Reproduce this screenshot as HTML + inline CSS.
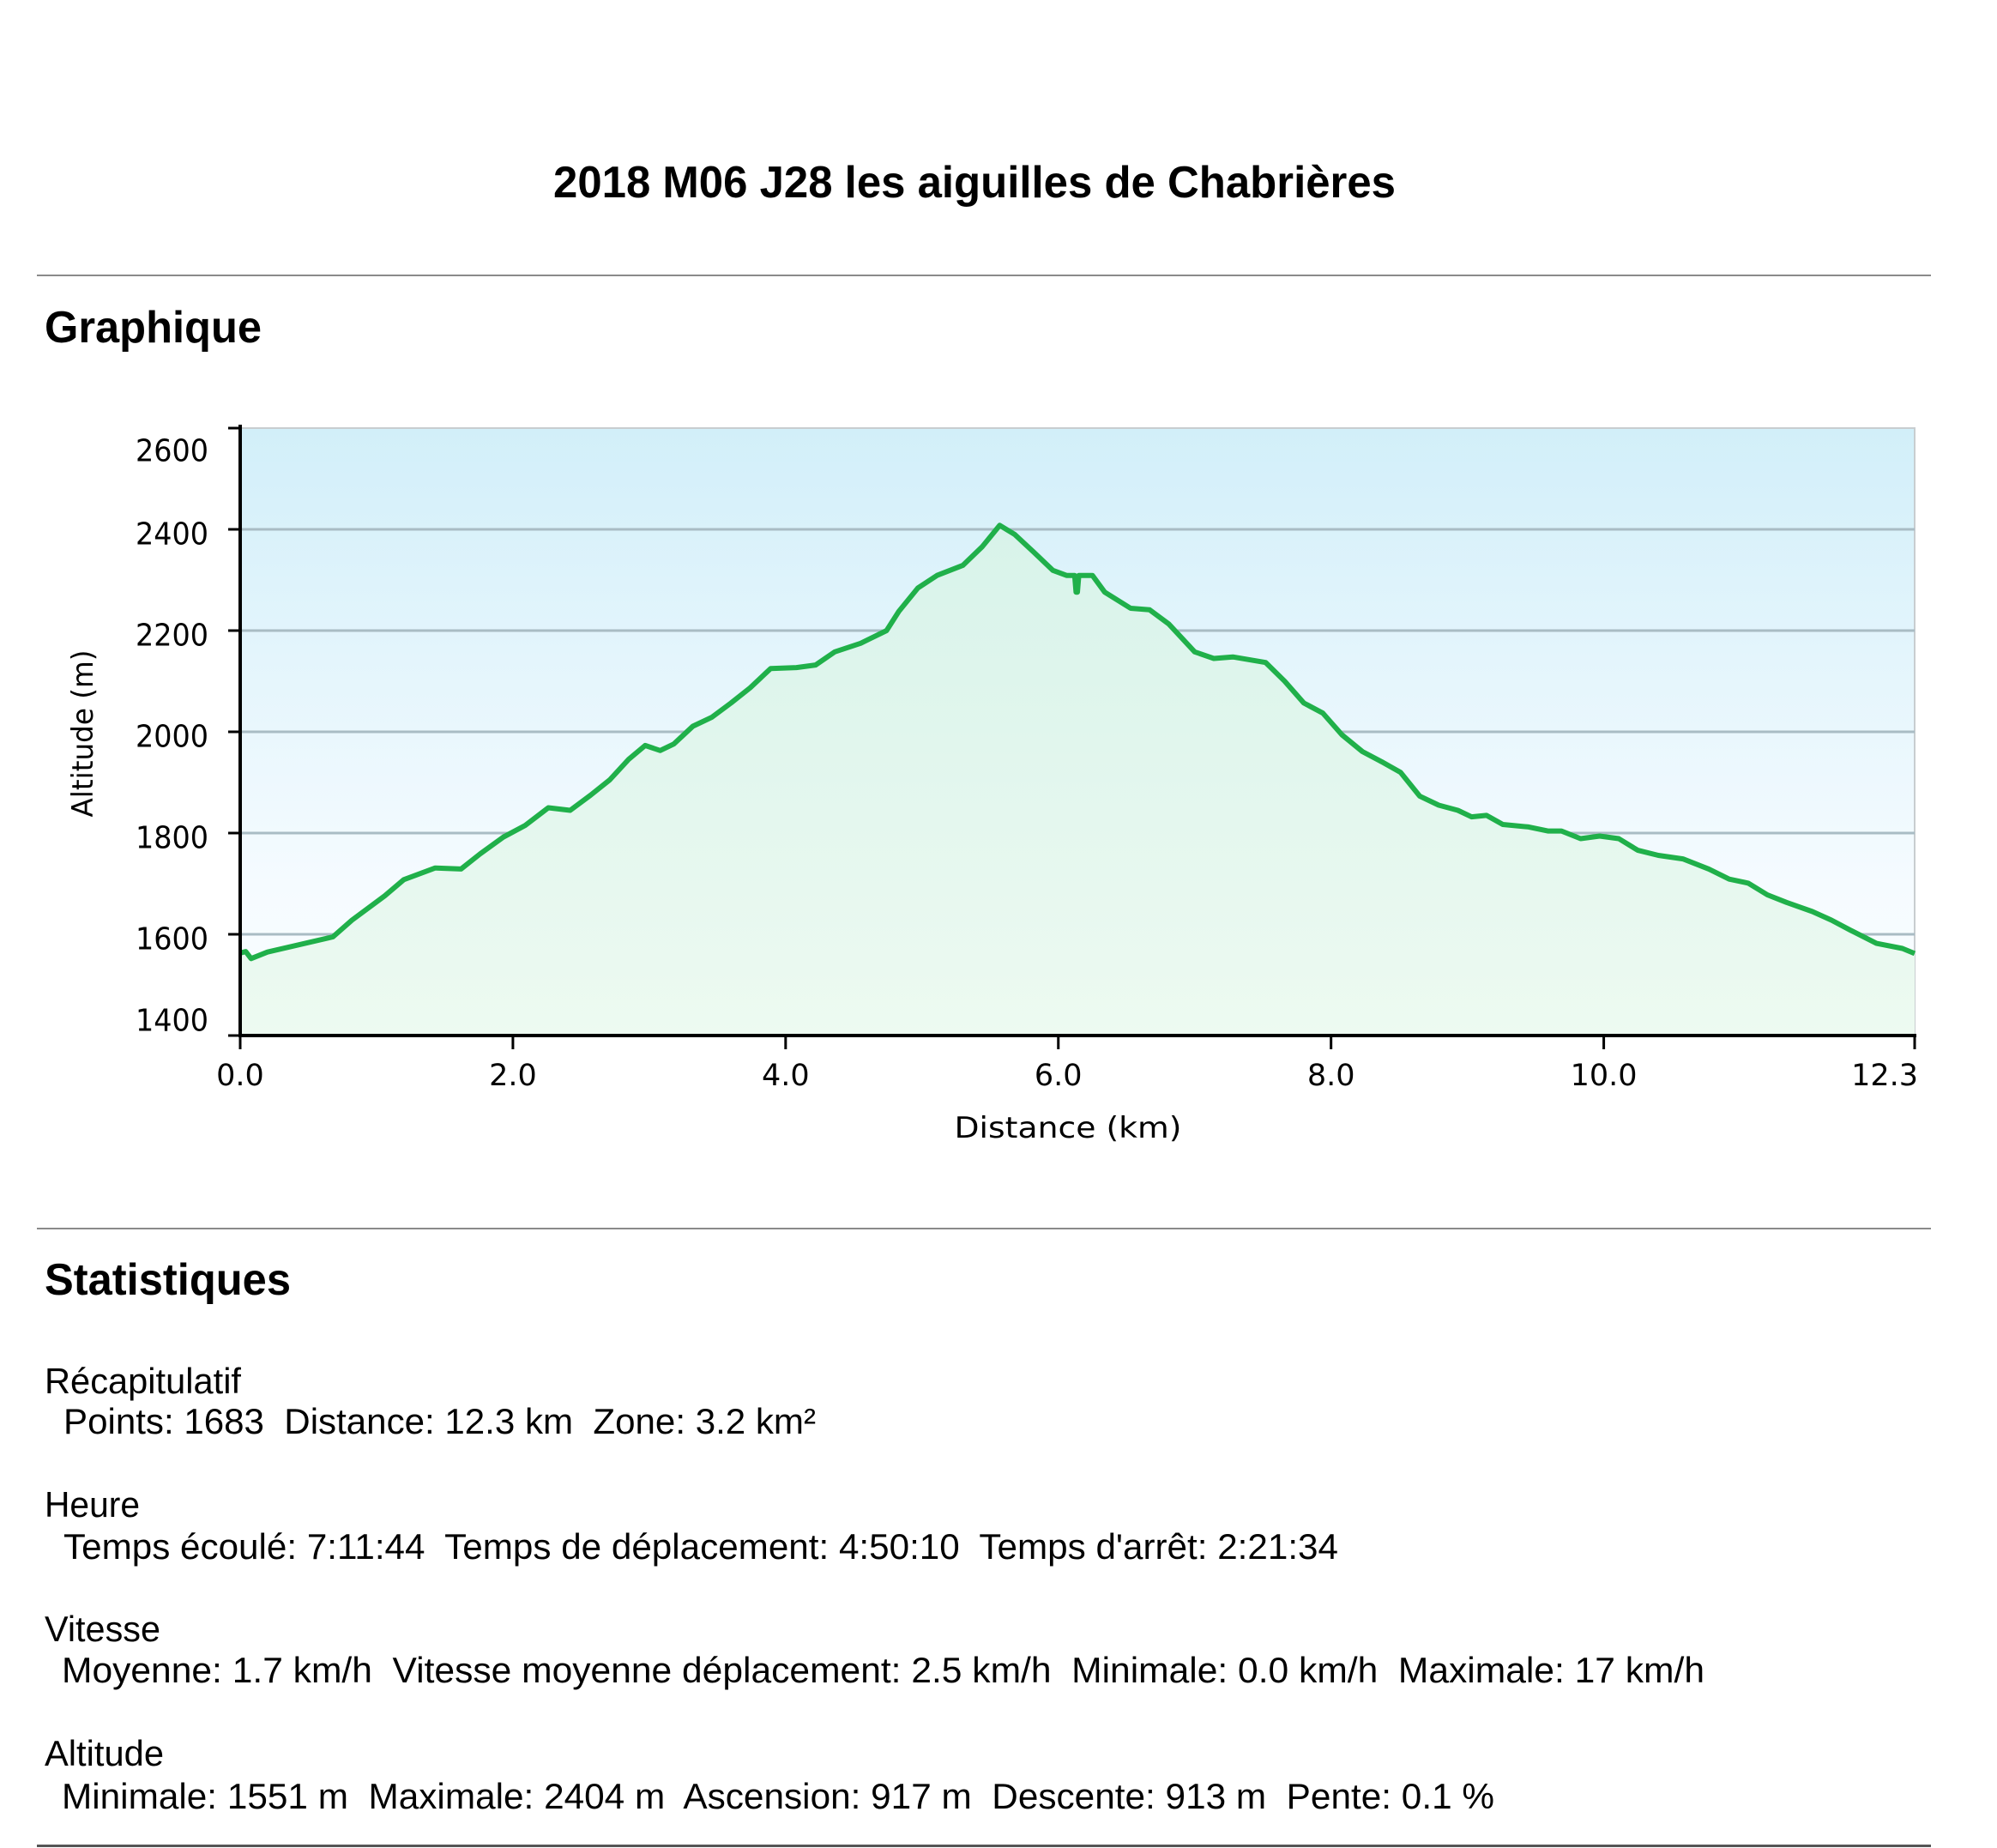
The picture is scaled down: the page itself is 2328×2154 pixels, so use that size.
<!DOCTYPE html>
<html><head><meta charset="utf-8">
<style>html,body{margin:0;padding:0;background:#fff;}svg{display:block;}</style>
</head><body>
<svg id="page" width="2328" height="2154" viewBox="0 0 2328 2154" xmlns="http://www.w3.org/2000/svg" font-family="'Liberation Sans', sans-serif">
<defs>
<linearGradient id="skyGrad" x1="0" y1="0" x2="0" y2="1">
<stop offset="0" stop-color="#d2eff9"/><stop offset="0.75" stop-color="#f5fbff"/><stop offset="1" stop-color="#fafdff"/>
</linearGradient>
<linearGradient id="fillGrad" x1="0" y1="0" x2="0" y2="1">
<stop offset="0" stop-color="#d8f3ea"/><stop offset="1" stop-color="#edfaf1"/>
</linearGradient>
</defs>
<text x="645" y="230" font-size="52" font-weight="bold" textLength="982" lengthAdjust="spacingAndGlyphs">2018 M06 J28 les aiguilles de Chabrières</text>
<rect x="43" y="320" width="2208" height="2" fill="#8a8a8a"/>
<text x="52" y="399" font-size="52" font-weight="bold" textLength="253" lengthAdjust="spacingAndGlyphs">Graphique</text>

<g id="chart"></g>

<rect x="43" y="1431" width="2208" height="2" fill="#8a8a8a"/>
<text x="52" y="1509" font-size="52" font-weight="bold" textLength="287" lengthAdjust="spacingAndGlyphs">Statistiques</text>
<g font-size="42" fill="#000">
<text x="52" y="1624" textLength="229" lengthAdjust="spacingAndGlyphs">Récapitulatif</text>
<text x="74" y="1671" textLength="877" lengthAdjust="spacingAndGlyphs" xml:space="preserve">Points: 1683  Distance: 12.3 km  Zone: 3.2 km²</text>
<text x="52" y="1768" textLength="111" lengthAdjust="spacingAndGlyphs">Heure</text>
<text x="74" y="1817" textLength="1486" lengthAdjust="spacingAndGlyphs" xml:space="preserve">Temps écoulé: 7:11:44  Temps de déplacement: 4:50:10  Temps d'arrêt: 2:21:34</text>
<text x="52" y="1913" textLength="135" lengthAdjust="spacingAndGlyphs">Vitesse</text>
<text x="72" y="1961" textLength="1915" lengthAdjust="spacingAndGlyphs" xml:space="preserve">Moyenne: 1.7 km/h  Vitesse moyenne déplacement: 2.5 km/h  Minimale: 0.0 km/h  Maximale: 17 km/h</text>
<text x="52" y="2058" textLength="139" lengthAdjust="spacingAndGlyphs">Altitude</text>
<text x="72" y="2108" textLength="1670" lengthAdjust="spacingAndGlyphs" xml:space="preserve">Minimale: 1551 m  Maximale: 2404 m  Ascension: 917 m  Descente: 913 m  Pente: 0.1 %</text>
</g>
<rect x="43" y="2150" width="2208" height="3" fill="#555"/>
</svg>
<script>
const distances = [0,0.04,0.08,0.2,0.68,0.82,1.06,1.2,1.43,1.62,1.76,1.93,2.09,2.26,2.42,2.57,2.71,2.85,2.97,3.08,3.18,3.32,3.46,3.6,3.74,3.89,4.08,4.22,4.36,4.55,4.74,4.83,4.97,5.11,5.3,5.44,5.57,5.68,5.82,5.96,6.06,6.12,6.13,6.14,6.15,6.25,6.34,6.53,6.67,6.81,7.0,7.14,7.28,7.52,7.66,7.8,7.94,8.08,8.23,8.37,8.51,8.65,8.79,8.93,9.03,9.14,9.26,9.45,9.59,9.69,9.83,9.97,10.11,10.25,10.4,10.58,10.77,10.92,11.06,11.2,11.34,11.53,11.67,11.81,12.0,12.19,12.28];
const altitudes = [1563,1566,1552,1565,1595,1628,1676,1708,1731,1729,1759,1792,1815,1850,1845,1875,1905,1946,1973,1963,1976,2011,2029,2057,2087,2125,2127,2132,2158,2175,2200,2238,2284,2309,2329,2365,2408,2390,2355,2319,2309,2309,2276,2276,2309,2309,2276,2244,2241,2213,2158,2145,2148,2137,2100,2057,2037,1994,1961,1941,1920,1873,1855,1845,1832,1835,1817,1812,1804,1804,1789,1794,1789,1766,1756,1749,1729,1709,1701,1678,1663,1645,1628,1608,1582,1572,1562];
const yTicks = [1400,1600,1800,2000,2200,2400,2600];
const xTicks = [0,2,4,6,8,10];
const xTickLabels = ['0.0','2.0','4.0','6.0','8.0','10.0'];
const xEndLabel = '12.3';
const xMax = 12.28;

const NS='http://www.w3.org/2000/svg';
const g=document.getElementById('chart');
const L=280,R=2232,T=499,B=1207,yMin=1400,yMax=2600;
const xs=v=>L+(v/xMax)*(R-L);
const ys=v=>B-(v-yMin)/(yMax-yMin)*(B-T);
function mk(tag,attrs,parent){const e=document.createElementNS(NS,tag);for(const k in attrs)e.setAttribute(k,attrs[k]);(parent||g).appendChild(e);return e;}

const bg=mk('rect',{x:L,y:T,width:R-L,height:B-T,fill:'url(#skyGrad)',stroke:'#c8cdd0','stroke-width':2});



yTicks.forEach(v=>{
  if(v>yMin&&v<yMax){
    const gl=mk('line',{x1:L,x2:R,y1:ys(v),y2:ys(v),stroke:'#a9bcc4','stroke-width':3});
    
    
  }
});

let pts=distances.map((d,i)=>xs(d).toFixed(1)+','+ys(altitudes[i]).toFixed(1));
const area=mk('polygon',{points:xs(0)+','+B+' '+pts.join(' ')+' '+xs(distances[distances.length-1])+','+B,fill:'url(#fillGrad)'});


const line=mk('polyline',{points:pts.join(' '),fill:'none',stroke:'#20b04a','stroke-width':6,'stroke-linejoin':'round'});



const ya=mk('line',{x1:L,x2:L,y1:T-4,y2:B+1,stroke:'#000','stroke-width':4});


const xa=mk('line',{x1:L-2,x2:R+2,y1:B,y2:B,stroke:'#000','stroke-width':4});



yTicks.forEach(v=>{
  const y=ys(v);
  const tk=mk('line',{x1:L-14,x2:L,y1:y,y2:y,stroke:'#000','stroke-width':3});
  
  
  let ly=y+6; if(v===yMax) ly=y+27; if(v===yMin) ly=y-17;
  const t=mk('text',{x:243,y:ly,'font-family':"'DejaVu Sans', sans-serif",'font-size':36,'text-anchor':'end','dominant-baseline':'central',textLength:85,lengthAdjust:'spacingAndGlyphs'});
  t.textContent=String(v);
  
  
});

xTicks.forEach((v,i)=>{
  const x=xs(v);
  const tk=mk('line',{x1:x,x2:x,y1:B,y2:B+16,stroke:'#000','stroke-width':3});
  
  
  const t=mk('text',{x:x,y:1254,'font-family':"'DejaVu Sans', sans-serif",'font-size':35,'text-anchor':'middle','dominant-baseline':'central'});
  t.textContent=xTickLabels[i];
  
  
});
const endTick=mk('line',{x1:R,x2:R,y1:B,y2:B+16,stroke:'#000','stroke-width':3});


const endLbl=mk('text',{x:R+4,y:1254,'font-family':"'DejaVu Sans', sans-serif",'font-size':35,'text-anchor':'end','dominant-baseline':'central'});
endLbl.textContent=xEndLabel;



const xt=mk('text',{x:1245,y:1315,'font-family':"'DejaVu Sans', sans-serif",'font-size':34,'text-anchor':'middle','dominant-baseline':'central','xml:space':'preserve',textLength:265,lengthAdjust:'spacingAndGlyphs'});
xt.textContent='Distance   (km)';


const yt=mk('text',{x:0,y:0,'font-family':"'DejaVu Sans', sans-serif",'font-size':34,'text-anchor':'middle','dominant-baseline':'central',transform:'translate(97,855) rotate(-90)',textLength:195,lengthAdjust:'spacingAndGlyphs'});
yt.textContent='Altitude (m)';


</script>
</body></html>
